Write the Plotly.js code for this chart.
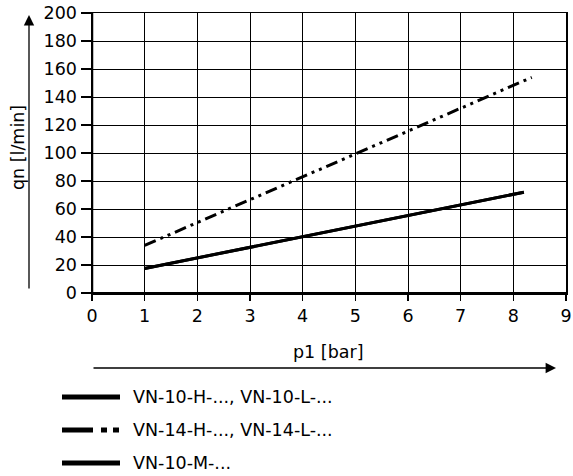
<!DOCTYPE html>
<html>
<head>
<meta charset="utf-8">
<script src="https://cdn.plot.ly/plotly-3.0.1.min.js"></script>
<style>html,body{margin:0;padding:0;background:#fff;}#chart{width:573px;height:476px;}</style>
</head>
<body>
<div id="chart"></div>
<script>
// Data
const seriesNames = ["VN-10-H-..., VN-10-L-...", "VN-14-H-..., VN-14-L-...", "VN-10-M-..."];
const vn10HL_p = [1, 8.2];
const vn10HL_q = [17.5, 72];
const vn14HL_p = [1, 8.35];
const vn14HL_q = [34, 154];
const vn10M_p = [1, 8.2];
const vn10M_q = [17.5, 72];
const xTicks = [0, 1, 2, 3, 4, 5, 6, 7, 8, 9];
const yTicks = [0, 20, 40, 60, 80, 100, 120, 140, 160, 180, 200];
const xTitle = "p1 [bar]";
const yTitle = "qn [l/min]";

const FONT = "DejaVu Sans";
const FS = 17.5;
const dashDotDot = "12px,5px,3px,5px,3px,5px";
const styles = [
  {dash: "solid", legendDash: "solid"},
  {dash: dashDotDot, legendDash: "31px,8px,6px,6px,6px,40px"},
  {dash: "solid", legendDash: "solid"}
];
const xs = [vn10HL_p, vn14HL_p, vn10M_p];
const ys = [vn10HL_q, vn14HL_q, vn10M_q];

const traces = xs.map((x, i) => ({
  x: x, y: ys[i], type: "scatter", mode: "lines", name: seriesNames[i],
  line: {color: "#000", width: 3, dash: styles[i].dash},
  showlegend: false, hoverinfo: "skip"
}));

// geometry of plot area in px (for paper conversions)
const L = 92, R = 7, T = 13, B = 183, W = 573, H = 476;
const pw = W - L - R, ph = H - T - B;
const px2x = p => (p - L) / pw;
const px2y = p => (H - B - p) / ph;

const shapes = [];
const annotations = [];
const legendRows = [397, 430, 463];
seriesNames.forEach((n, i) => {
  shapes.push({type: "line", xref: "paper", yref: "paper",
    x0: px2x(62), x1: px2x(120), y0: px2y(legendRows[i]), y1: px2y(legendRows[i]),
    line: {color: "#000", width: 5, dash: styles[i].legendDash}});
  annotations.push({xref: "paper", yref: "paper", x: px2x(131), y: px2y(legendRows[i]),
    xanchor: "left", yanchor: "middle", text: n, showarrow: false,
    font: {family: FONT, size: FS, color: "#000"}});
});
// axis arrows
annotations.push({xref: "paper", yref: "paper", x: px2x(29), y: px2y(15), ax: 0, ay: 275,
  text: "", showarrow: true, arrowhead: 2, arrowsize: 1.6,
  arrowwidth: 1.3, arrowcolor: "#000"});
annotations.push({xref: "paper", yref: "paper", x: px2x(556), y: px2y(368), ax: -464, ay: 0,
  text: "", showarrow: true, arrowhead: 2, arrowsize: 1.6, arrowwidth: 1.3, arrowcolor: "#000"});
// axis titles
annotations.push({xref: "paper", yref: "paper", x: px2x(328), y: px2y(352), xanchor: "center", yanchor: "middle",
  text: xTitle, showarrow: false, font: {family: FONT, size: FS, color: "#000"}});
annotations.push({xref: "paper", yref: "paper", x: px2x(18), y: px2y(148), xanchor: "center", yanchor: "middle",
  text: yTitle, textangle: -90, showarrow: false, font: {family: FONT, size: FS, color: "#000"}});

// thicker left and bottom axis lines
shapes.push({type: "line", xref: "x", yref: "paper", x0: 0, x1: 0, y0: 0, y1: 1, line: {color: "#000", width: 2.5}});
shapes.push({type: "line", xref: "paper", yref: "y", x0: 0, x1: 1, y0: 0, y1: 0, line: {color: "#000", width: 2}});

const layout = {
  width: W, height: H,
  margin: {l: L, r: R, t: T, b: B},
  paper_bgcolor: "#fff", plot_bgcolor: "#fff",
  font: {family: FONT, size: FS, color: "#000"},
  showlegend: false,
  xaxis: {range: [0, 9], tickvals: xTicks, ticktext: xTicks.map(String),
    showgrid: true, gridcolor: "#000", gridwidth: 1, zeroline: false,
    showline: true, linecolor: "#000", linewidth: 1.5, mirror: true,
    ticks: "outside", ticklen: 6, tickcolor: "#000", tickwidth: 1.5,
    tickfont: {family: FONT, size: FS, color: "#000"}, fixedrange: true},
  yaxis: {range: [0, 200], tickvals: yTicks, ticktext: yTicks.map(String),
    showgrid: true, gridcolor: "#000", gridwidth: 1, zeroline: false,
    showline: true, linecolor: "#000", linewidth: 1.5, mirror: true,
    ticks: "outside", ticklen: 10, tickcolor: "#000", tickwidth: 1.5,
    tickfont: {family: FONT, size: FS, color: "#000"}, fixedrange: true},
  shapes: shapes,
  annotations: annotations
};

Plotly.newPlot("chart", traces, layout, {displayModeBar: false, staticPlot: true});
</script>
</body>
</html>
